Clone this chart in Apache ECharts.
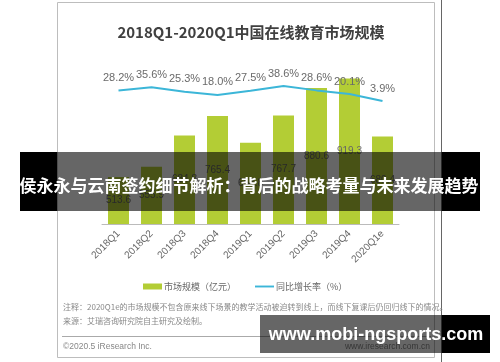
<!DOCTYPE html>
<html><head><meta charset="utf-8">
<script src="https://cdn.jsdelivr.net/npm/echarts@6/dist/echarts.min.js"></script>
<style>html,body{margin:0;padding:0;background:#fff}#c{width:500px;height:362px}</style>
</head><body><div id="c"></div>
<script>
var categories = ['2018Q1','2018Q2','2018Q3','2018Q4','2019Q1','2019Q2','2019Q3','2019Q4','2020Q1e'];
var marketSize = [513.6, 555.9, 684.8, 765.4, 654.8, 767.7, 880.6, 919.3, 680.4];
var growthRate = [28.2, 35.6, 25.3, 18.0, 27.5, 38.6, 28.6, 20.1, 3.9];
var titleText = '2018Q1-2020Q1中国在线教育市场规模';
var seriesNames = ['市场规模（亿元）', '同比增长率（%）'];
var noteText = '注释：2020Q1e的市场规模不包含原来线下场景的教学活动被迫转到线上，而线下复课后仍回归线下的情况。';
var sourceText = '来源：艾瑞咨询研究院自主研究及绘制。';
var copyrightText = '©2020.5 iResearch Inc.';
var siteText = 'www.iresearch.com.cn';
var bannerText = '侯永永与云南签约细节解析：背后的战略考量与未来发展趋势';
var watermarkText = 'www.mobi-ngsports.com';

var CJK = '"Noto Sans CJK SC", sans-serif';
var NUM = '"Liberation Sans", "Noto Sans CJK SC", sans-serif';
var chart = echarts.init(document.getElementById('c'), null, {renderer: 'canvas'});
chart.setOption({
  animation: false,
  backgroundColor: '#fff',
  title: {text: titleText, left: 246, textAlign: 'center', top: 20,
    textStyle: {fontFamily: CJK, fontSize: 15, fontWeight: 'bold', color: '#404040'}},
  legend: {
    left: 138, top: 277, itemWidth: 19, itemHeight: 6, itemGap: 19,
    textStyle: {fontFamily: CJK, fontSize: 9, color: '#666', padding: [0,0,0,-3]},
    data: [{name: seriesNames[0], icon: 'rect'},
           {name: seriesNames[1], icon: 'path://M0,0L20,0L20,2L0,2Z', symbolKeepAspect: true}]
  },
  grid: {left: 102, right: 101, top: 60, bottom: 138, containLabel: false},
  xAxis: {
    type: 'category', data: categories,
    axisLine: {onZero: false, lineStyle: {color: '#bbb', width: 1}},
    axisTick: {show: false},
    axisLabel: {rotate: 45, fontFamily: NUM, fontSize: 10, color: '#666', margin: 8, interval: 0}
  },
  yAxis: [
    {type: 'value', min: 320, max: 996, show: false, splitLine: {show: false}},
    {type: 'value', min: -281, max: 99, show: false, splitLine: {show: false}}
  ],
  series: [
    {name: seriesNames[0], type: 'bar', data: marketSize, barWidth: 21, yAxisIndex: 0,
      itemStyle: {color: '#b3cd35'},
      label: {show: true, position: 'inside', fontFamily: NUM, fontSize: 10, color: '#666'}},
    {name: seriesNames[1], type: 'line', data: growthRate, yAxisIndex: 1,
      symbol: 'circle', symbolSize: 0, showSymbol: true,
      lineStyle: {color: '#3cb6d8', width: 2}, itemStyle: {color: '#3cb6d8'},
      label: {show: true, position: 'top', distance: 7, fontFamily: NUM, fontSize: 11, color: '#6a6a6a',
        formatter: function(p){ return p.value.toFixed(1) + '%'; }}, z: 3}
  ],
  graphic: [
    {type: 'rect', shape: {x: 57.5, y: 2.5, width: 377, height: 355}, style: {fill: 'none', stroke: '#bdbdbd', lineWidth: 1}, z: -1, silent: true},
    {type: 'line', shape: {x1: 441.5, y1: 0, x2: 441.5, y2: 362}, style: {stroke: '#666', lineWidth: 1}, silent: true},
    {type: 'text', left: 63, top: 303, style: {text: noteText, font: '8px ' + CJK, fill: '#888'}, silent: true},
    {type: 'text', left: 63, top: 317, style: {text: sourceText, font: '8px ' + CJK, fill: '#888'}, silent: true},
    {type: 'line', shape: {x1: 62, y1: 336.5, x2: 431, y2: 336.5}, style: {stroke: '#aaa', lineWidth: 1}, silent: true},
    {type: 'text', left: 63, top: 342, style: {text: copyrightText, font: '8.5px ' + NUM, fill: '#888'}, silent: true},
    {type: 'text', right: 70, top: 342, style: {text: siteText, font: '8.5px ' + NUM, fill: '#888'}, silent: true},
    {type: 'rect', shape: {x: 20, y: 152, width: 37, height: 59}, style: {fill: '#000'}, z: 100, silent: true},
    {type: 'rect', shape: {x: 57, y: 152, width: 385, height: 59}, style: {fill: 'rgba(0,0,0,0.6)'}, z: 100, silent: true},
    {type: 'rect', shape: {x: 442, y: 152, width: 38, height: 59}, style: {fill: '#000'}, z: 100, silent: true},
    {type: 'text', x: 249, y: 186, style: {text: bannerText, font: 'bold 17px ' + CJK, fill: '#fff', textAlign: 'center', textVerticalAlign: 'middle'}, z: 101, silent: true},
    {type: 'rect', shape: {x: 260, y: 315, width: 182, height: 38}, style: {fill: 'rgba(0,0,0,0.6)'}, z: 100, silent: true},
    {type: 'rect', shape: {x: 442, y: 315, width: 48, height: 38}, style: {fill: '#000'}, z: 100, silent: true},
    {type: 'text', x: 376, y: 335, style: {text: watermarkText, font: 'bold 18px "Liberation Sans", sans-serif', fill: '#fff', textAlign: 'center', textVerticalAlign: 'middle'}, z: 101, silent: true}
  ]
});
</script></body></html>
